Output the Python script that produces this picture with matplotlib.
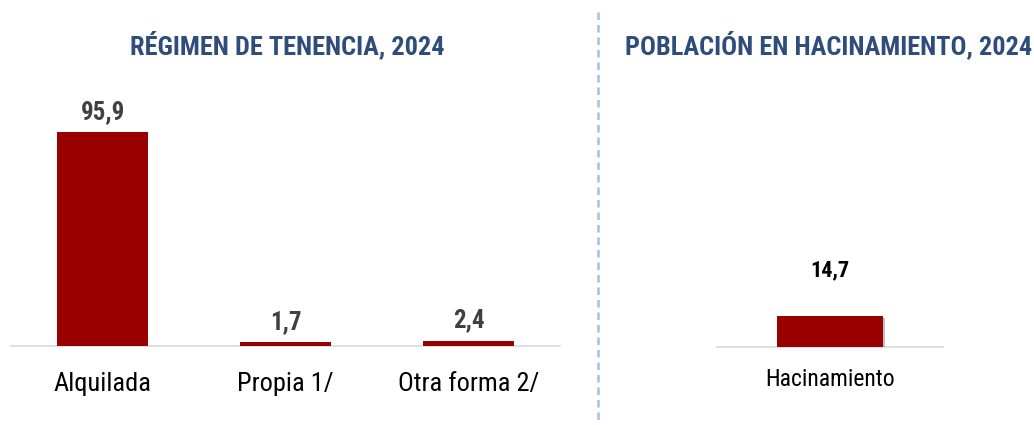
import matplotlib
matplotlib.use("Agg")
import matplotlib.pyplot as plt
from matplotlib.lines import Line2D
import matplotlib.patheffects as pe

plt.rcParams['font.family'] = ['Roboto Condensed', 'Liberation Sans', 'DejaVu Sans']

# Data
tenencia_cats = ["Alquilada", "Propia 1/", "Otra forma 2/"]
tenencia_vals = [95.9, 1.7, 2.4]
tenencia_labels = ["95,9", "1,7", "2,4"]

hacin_cats = ["Hacinamiento"]
hacin_vals = [14.7]
hacin_labels = ["14,7"]

title_left = "RÉGIMEN DE TENENCIA, 2024"
title_right = "POBLACIÓN EN HACINAMIENTO, 2024"

BAR = "#990000"
TITLE_C = "#2E4D7B"
W, H = 1034, 425

fig = plt.figure(figsize=(W / 100, H / 100), dpi=100)

def fx(px):
    return px / W

def fy(py):
    return 1 - py / H

# Left axes
base = 346
axL = fig.add_axes([fx(11), fy(base), fx(560 - 11), 223 / H])
axL.bar(range(len(tenencia_cats)), tenencia_vals, width=0.5, color=BAR, zorder=3)
axL.set_xlim(-0.5, len(tenencia_cats) - 0.5)
axL.set_ylim(0, 100)
for i, (v, lab) in enumerate(zip(tenencia_vals, tenencia_labels)):
    axL.annotate(lab, (i, v), xytext=(0, 6), textcoords="offset points",
                 ha="center", va="bottom", fontsize=18, fontweight="bold",
                 color="#404040", annotation_clip=False)
axL.set_xticks(range(len(tenencia_cats)))
axL.set_xticklabels(tenencia_cats, fontsize=19, color="#000000")
axL.tick_params(axis="x", length=0, pad=18.5)
axL.set_yticks([])
for s in ["top", "right", "left"]:
    axL.spines[s].set_visible(False)
axL.spines["bottom"].set_color("#D9D9D9")
axL.spines["bottom"].set_linewidth(1.2)
axL.patch.set_alpha(0)

# Right axes
axR = fig.add_axes([fx(717), fy(347), fx(943 - 717), 211 / H])
bars = axR.bar(range(len(hacin_cats)), hacin_vals, width=0.47, color=BAR, zorder=3)
for b in bars:
    b.set_path_effects([pe.SimplePatchShadow(offset=(1.5, -1.5), shadow_rgbFace="#808080", alpha=0.5), pe.Normal()])
axR.set_xlim(-0.5, 0.5)
axR.set_ylim(0, 100)
for i, (v, lab) in enumerate(zip(hacin_vals, hacin_labels)):
    axR.annotate(lab, (i, v), xytext=(0, 25), textcoords="offset points",
                 ha="center", va="bottom", fontsize=16, fontweight="bold",
                 color="#000000", annotation_clip=False)
axR.set_xticks(range(len(hacin_cats)))
axR.set_xticklabels(hacin_cats, fontsize=17, color="#000000")
axR.tick_params(axis="x", length=0, pad=15)
axR.set_yticks([])
for s in ["top", "right", "left"]:
    axR.spines[s].set_visible(False)
axR.spines["bottom"].set_color("#D9D9D9")
axR.spines["bottom"].set_linewidth(1.2)
axR.patch.set_alpha(0)

# Titles
fig.text(fx(287), fy(45), title_left, ha="center", va="center",
         fontsize=19, fontweight="bold", color=TITLE_C)
fig.text(fx(829), fy(45), title_right, ha="center", va="center",
         fontsize=19, fontweight="bold", color=TITLE_C)

# Divider
fig.add_artist(Line2D([fx(598), fx(598)], [fy(12), fy(425)], color="#9DC3E6",
                      lw=1.8, linestyle=(0, (3, 2)), transform=fig.transFigure))

fig.savefig("out.png", dpi=100)
